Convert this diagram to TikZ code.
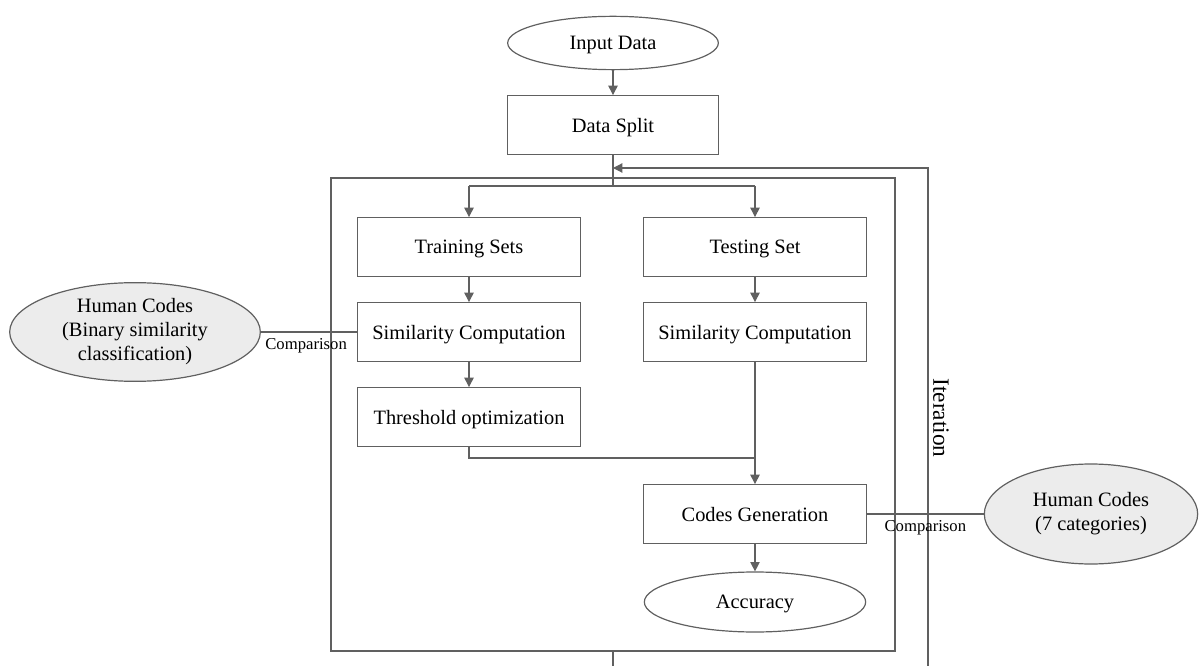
\documentclass[tikz,border=0pt]{standalone}
\usepackage{fontspec}
\setmainfont{Liberation Serif}
\usetikzlibrary{shapes.geometric,arrows.meta}
\definecolor{ln}{HTML}{606060}
\definecolor{fillg}{HTML}{ECECEC}
\begin{document}
\begin{tikzpicture}[x=0.75pt,y=-0.75pt,
  every node/.style={font=\fontsize{15.3}{18}\selectfont, text=black},
  box/.style={draw=ln, line width=0.9pt, minimum width=167pt, minimum height=44pt, inner sep=0pt, text depth=0pt},
  ell/.style={ellipse, draw=ln, line width=0.9pt, inner sep=0pt},
  conn/.style={draw=ln, line width=0.9pt},
  arr/.style={conn, -{Triangle[length=7pt,width=7pt]}},
  lab/.style={font=\fontsize{12.5}{14}\selectfont, below=1pt}]
\useasboundingbox (0,0) rectangle (1199,666);
% frame
\draw[conn] (331,178) rectangle (895,651);
% nodes
\node[ell, minimum width=158pt, minimum height=40pt, text depth=0pt] (input) at (613,43) {Input Data};
\node[box, minimum width=158pt] (split) at (613,125) {Data Split};
\node[box] (train) at (469,247) {Training Sets};
\node[box] (test) at (755,247) {Testing Set};
\node[box] (simL) at (469,332) {Similarity Computation};
\node[box] (simR) at (755,332) {Similarity Computation};
\node[box] (thr) at (469,417) {Threshold optimization};
\node[box] (codes) at (755,514) {Codes Generation};
\node[ell, minimum width=166pt, minimum height=45pt, text depth=0pt] (acc) at (755,602) {Accuracy};
\node[ell, fill=fillg, minimum width=188pt, minimum height=74pt, align=center] (hcL) at (135,332) {Human Codes\\(Binary similarity\\classification)};
\node[ell, fill=fillg, minimum width=160pt, minimum height=75pt, align=center] (hcR) at (1091,514) {Human Codes\\(7 categories)};
\coordinate (br) at (613,186);
\coordinate (brL) at (469,186);
\coordinate (brR) at (755,186);
\coordinate (thrb) at (469,458);
\coordinate (mrg) at (755,458);
\coordinate (itTop) at (928,168);
\coordinate (itIn) at (613,168);
\coordinate (itBot) at (928,666);
\coordinate (outB) at (613,666);
\coordinate (frB) at (613,651);
% connectors
\draw[arr] (input) -- (split);
\draw[conn] (split.south) -- (br);
\draw[conn] (brL) -- (brR);
\draw[arr] (brL) -- (train);
\draw[arr] (brR) -- (test);
\draw[arr] (train) -- (simL);
\draw[arr] (test) -- (simR);
\draw[arr] (simL) -- (thr);
\draw[conn] (thr.south) -- (thrb) -- (mrg);
\draw[arr] (simR) -- (codes);
\draw[arr] (codes) -- (acc);
\draw[arr] (itBot) -- (itTop) -- (itIn);
\draw[conn] (frB) -- (outB);
\draw[conn] (hcL) -- node[lab, pos=0.47] {Comparison} (simL);
\draw[conn] (codes) -- node[lab, pos=0.5] {Comparison} (hcR);
\node[rotate=-90, font=\fontsize{17.5}{20}\selectfont] (iter) at (941,418) {Iteration};
\end{tikzpicture}
\end{document}
